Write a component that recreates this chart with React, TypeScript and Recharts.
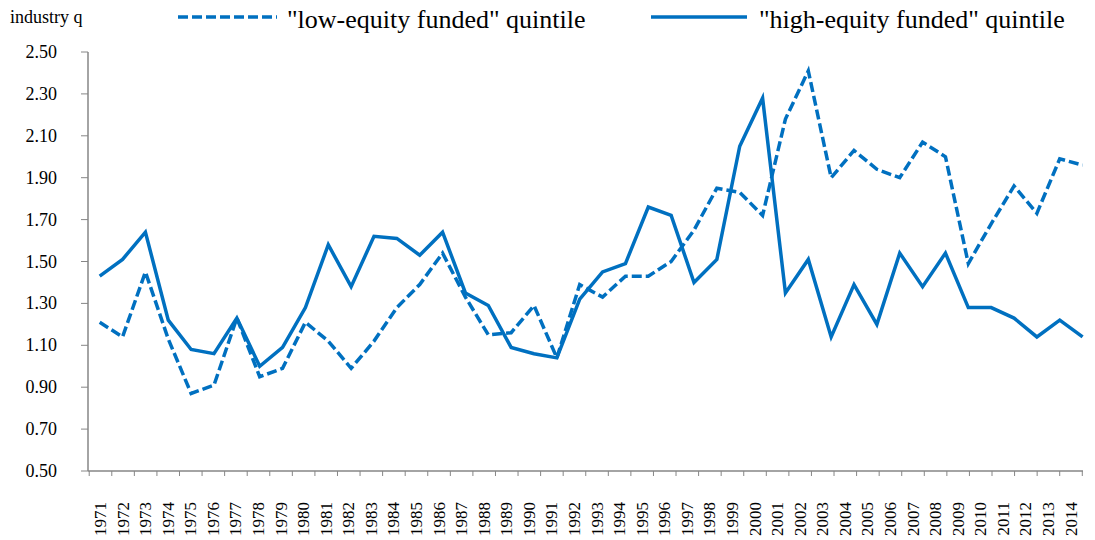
import { LineChart, Line, XAxis, YAxis } from "recharts";

const years = [
  "1971", "1972", "1973", "1974", "1975", "1976", "1977", "1978", "1979", "1980",
  "1981", "1982", "1983", "1984", "1985", "1986", "1987", "1988", "1989", "1990",
  "1991", "1992", "1993", "1994", "1995", "1996", "1997", "1998", "1999", "2000",
  "2001", "2002", "2003", "2004", "2005", "2006", "2007", "2008", "2009", "2010",
  "2011", "2012", "2013", "2014",
];

const lowEquity = [
  1.21, 1.14, 1.45, 1.13, 0.87, 0.91, 1.23, 0.95, 0.99, 1.21,
  1.12, 0.99, 1.12, 1.28, 1.39, 1.54, 1.33, 1.15, 1.16, 1.29,
  1.04, 1.39, 1.33, 1.43, 1.43, 1.50, 1.65, 1.85, 1.83, 1.72,
  2.18, 2.41, 1.90, 2.03, 1.94, 1.90, 2.07, 2.00, 1.49, 1.68,
  1.86, 1.73, 1.99, 1.96,
];

const highEquity = [
  1.43, 1.51, 1.64, 1.22, 1.08, 1.06, 1.23, 1.00, 1.09, 1.28,
  1.58, 1.38, 1.62, 1.61, 1.53, 1.64, 1.35, 1.29, 1.09, 1.06,
  1.04, 1.32, 1.45, 1.49, 1.76, 1.72, 1.40, 1.51, 2.05, 2.28,
  1.35, 1.51, 1.14, 1.39, 1.20, 1.54, 1.38, 1.54, 1.28, 1.28,
  1.23, 1.14, 1.22, 1.14,
];

const yTicks = [0.5, 0.7, 0.9, 1.1, 1.3, 1.5, 1.7, 1.9, 2.1, 2.3, 2.5];

const seriesNames = {
  low: '"low-equity funded" quintile',
  high: '"high-equity funded" quintile',
};

const data = years.map((year, i) => ({
  year,
  low: lowEquity[i],
  high: highEquity[i],
}));

const BLUE = "#0070C0";
const AXIS = "#868686";
const FONT = "'Liberation Serif', 'Times New Roman', serif";

// plot box
const W = 1095;
const H = 540;
const PLOT_LEFT = 88;
const PLOT_RIGHT = 1083;
const PLOT_TOP = 52;
const PLOT_BOTTOM = 471;
const LABEL_PAD = { left: 12.5, right: 12 };
const STEP = (PLOT_RIGHT - PLOT_LEFT - LABEL_PAD.left - LABEL_PAD.right) / (years.length - 1);

const YearTick = (props: any) => {
  const { x, y, payload, index } = props;
  const half = STEP / 2;
  return (
    <g>
      <line x1={x - half} y1={y} x2={x - half} y2={y + 5} stroke={AXIS} strokeWidth={1} />
      {index === years.length - 1 && (
        <line x1={x + half} y1={y} x2={x + half} y2={y + 5} stroke={AXIS} strokeWidth={1} />
      )}
      <g transform={`translate(${x},${y + 31}) rotate(-90)`}>
        <text textAnchor="end" dominantBaseline="central" style={{ fontFamily: FONT, fontSize: 17 }} fill="#000">
          {payload.value}
        </text>
      </g>
    </g>
  );
};

const ValueTick = (props: any) => {
  const { x, y, payload } = props;
  return (
    <text x={x} y={y} textAnchor="end" dominantBaseline="central" style={{ fontFamily: FONT, fontSize: 18 }} fill="#000">
      {Number(payload.value).toFixed(2)}
    </text>
  );
};

const ChartLegend = () => (
  <svg width={W} height={40} style={{ position: "absolute", left: 0, top: 0, fontFamily: FONT }}>
    <text x={10} y={23} fontSize={18} fill="#000">industry q</text>
    <line x1={178} y1={17} x2={277} y2={17} stroke={BLUE} strokeWidth={3.5} strokeDasharray="10 4" />
    <text x={287} y={28} fontSize={26} fill="#000">{seriesNames.low}</text>
    <line x1={651} y1={17} x2={747} y2={17} stroke={BLUE} strokeWidth={3.5} />
    <text x={759} y={28} fontSize={26} fill="#000">{seriesNames.high}</text>
  </svg>
);

export default function App() {
  return (
    <div style={{ position: "absolute", left: 0, top: 0, width: W, height: H, background: "#fff", fontFamily: FONT }}>
      <LineChart
        width={W}
        height={H}
        data={data}
        margin={{ top: PLOT_TOP, right: W - PLOT_RIGHT, bottom: 0, left: 0 }}
      >
        <XAxis
          dataKey="year"
          xAxisId="labels"
          height={H - PLOT_BOTTOM}
          padding={LABEL_PAD}
          interval={0}
          tickSize={0}
          tickMargin={0}
          tickLine={false}
          axisLine={{ stroke: AXIS, strokeWidth: 1.5 }}
          tick={<YearTick />}
        />
        <XAxis dataKey="year" xAxisId="data" hide height={0} padding={{ left: 11.7, right: 0.4 }} />
        <YAxis
          type="number"
          domain={[0.5, 2.5]}
          ticks={yTicks}
          width={PLOT_LEFT}
          tickSize={7}
          tickMargin={24}
          axisLine={{ stroke: AXIS, strokeWidth: 1.5 }}
          tickLine={{ stroke: AXIS }}
          tick={<ValueTick />}
        />
        <Line
          xAxisId="data"
          type="linear"
          dataKey="low"
          name={seriesNames.low}
          stroke={BLUE}
          strokeWidth={3.5}
          strokeDasharray="10 4"
          dot={false}
          isAnimationActive={false}
        />
        <Line
          xAxisId="data"
          type="linear"
          dataKey="high"
          name={seriesNames.high}
          stroke={BLUE}
          strokeWidth={3.5}
          dot={false}
          isAnimationActive={false}
        />
      </LineChart>
      <ChartLegend />
    </div>
  );
}
